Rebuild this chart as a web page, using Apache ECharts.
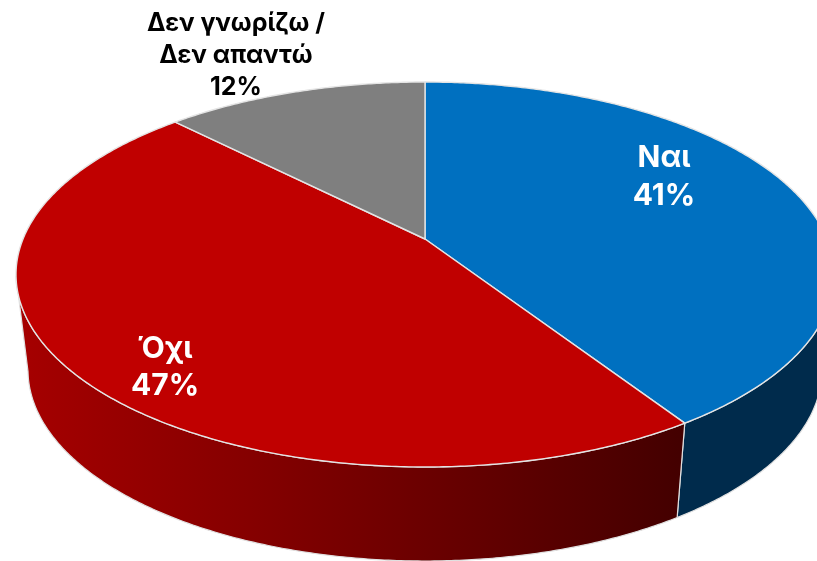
<!DOCTYPE html>
<html>
<head>
<meta charset="utf-8">
<style>html,body{margin:0;padding:0;background:#fff}#main{width:817px;height:561px}</style>
<script src="https://cdn.jsdelivr.net/npm/echarts@6/dist/echarts.min.js"></script>
</head>
<body>
<div id="main"></div>
<script>
var categories = ['Ναι', 'Όχι', 'Δεν γνωρίζω /\nΔεν απαντώ'];
var shares = [40.8, 46.8, 12.4];
var topColors = ['#0070c0', '#c00000', '#7f7f7f'];
var labelColors = ['#fff', '#fff', '#000'];
var labelSpots = [[664, 177], [165, 367], [236, 55]];
var labelSizes = [30, 30, 25];
var labelHeights = [38, 37, 32];

// tilted disc, the centre sits above the middle of the ellipse (perspective)
var cx = 425, topY = 82, apexY = 239, botY = 467, rx = 409;
var sideRx = 397, sideCy = 370, sideRy = 191;
var fontFamily = 'Inter, sans-serif';

// solve the projective map from the three y positions
var c = (2 * apexY - topY - botY) / (botY - topY);
var a = botY * (1 + c) - apexY;
var d = rx * Math.sqrt(1 - c * c);
var midY = (topY + botY) / 2, ryTop = (botY - topY) / 2;

function rimPoint(deg) {
    var t = deg * Math.PI / 180;
    var u = Math.sin(t), v = -Math.cos(t);
    var w = 1 + c * v;
    return [cx + d * u / w, (a * v + apexY) / w];
}
function toBottom(p) {
    return [cx + (p[0] - cx) / rx * sideRx, sideCy + (p[1] - midY) / ryTop * sideRy];
}

var sideFills = [
    '#002b4c',
    new echarts.graphic.LinearGradient(0, 0, 1, 0, [
        { offset: 0, color: '#a60000' }, { offset: 0.35, color: '#850000' },
        { offset: 0.7, color: '#620000' }, { offset: 1, color: '#430000' }
    ]),
    '#4c4c4c'
];

function renderSlice(params, api) {
    var i = params.dataIndex;
    var before = 0;
    for (var k = 0; k < i; k++) before += shares[k];
    var start = before / 100 * 360, end = (before + api.value(0)) / 100 * 360;
    var top = [[cx, apexY]], rimFront = [];
    for (var deg = start; deg < end; deg += 0.5) {
        top.push(rimPoint(deg));
    }
    top.push(rimPoint(end));
    top.slice(1).forEach(function (p) {
        if (p[1] >= midY) rimFront.push(p);
    });
    var children = [];
    if (rimFront.length) {
        var side = rimFront.concat(rimFront.map(toBottom).reverse());
        children.push({
            type: 'polygon', z2: 1, shape: { points: side },
            style: { fill: sideFills[i], stroke: '#e0e0e0', lineWidth: 1.2, lineJoin: 'round' }
        });
    }
    children.push({
        type: 'polygon', z2: 2, shape: { points: top },
        style: { fill: topColors[i], stroke: '#e4e4e4', lineWidth: 1.4, lineJoin: 'round' }
    });
    children.push({
        type: 'text', z2: 3,
        style: {
            text: categories[i] + '\n' + Math.round(api.value(0)) + '%',
            x: labelSpots[i][0], y: labelSpots[i][1],
            fill: labelColors[i], align: 'center', verticalAlign: 'middle',
            fontFamily: fontFamily, fontWeight: 'bold',
            fontSize: labelSizes[i], lineHeight: labelHeights[i]
        }
    });
    return { type: 'group', children: children };
}

var chart = echarts.init(document.getElementById('main'));
chart.setOption({
    animation: false,
    backgroundColor: '#fff',
    series: [{
        type: 'custom',
        coordinateSystem: 'none',
        renderItem: renderSlice,
        clip: false,
        data: shares.map(function (v, i) { return { name: categories[i], value: [v] }; })
    }]
});
</script>
</body>
</html>
